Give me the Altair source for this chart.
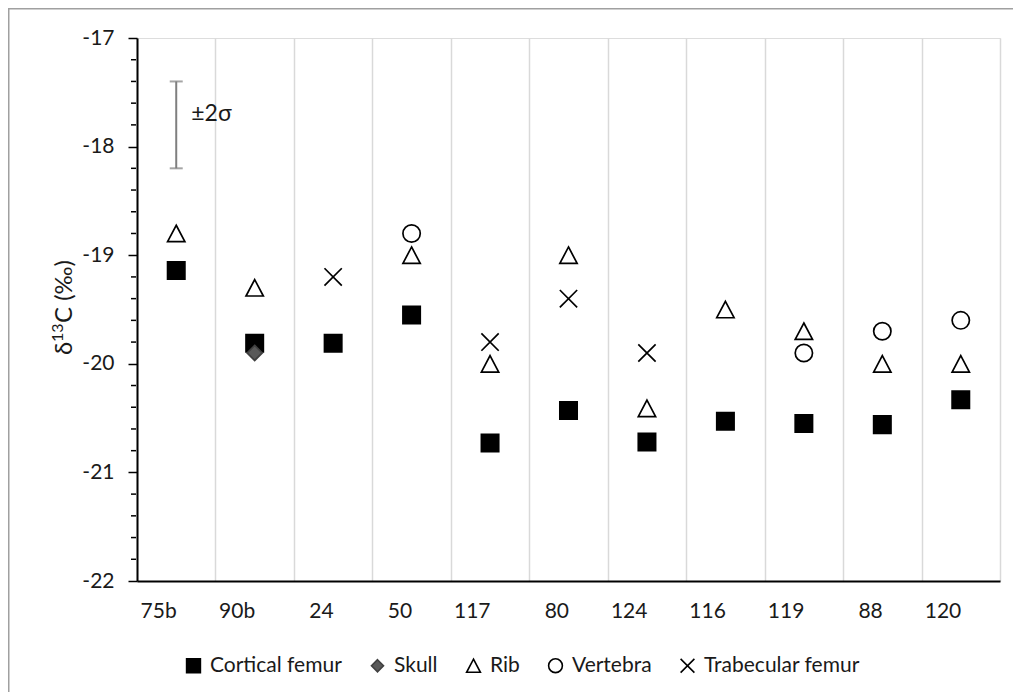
import altair as alt
import pandas as pd

categories = ["75b", "90b", "24", "50", "117", "80", "124", "116", "119", "88", "120"]
cortical_femur = [-19.14, -19.81, -19.81, -19.55, -20.73, -20.43, -20.72, -20.53, -20.55, -20.56, -20.33]
skull_cats = ["90b"]
skull = [-19.90]
rib_cats = ["75b", "90b", "50", "117", "80", "124", "116", "119", "88", "120"]
rib = [-18.8, -19.3, -19.0, -20.0, -19.0, -20.41, -19.5, -19.7, -20.0, -20.0]
vertebra_cats = ["50", "119", "88", "120"]
vertebra = [-18.8, -19.9, -19.7, -19.6]
trabecular_cats = ["24", "117", "80", "124"]
trabecular_femur = [-19.2, -19.8, -19.4, -19.9]

series_names = ["Cortical femur", "Skull", "Rib", "Vertebra", "Trabecular femur"]
series_shapes = [
    "M-1,-1L1,-1L1,1L-1,1Z",
    "M0,-0.87L0.87,0L0,0.87L-0.87,0Z",
    "M0,-0.95L1,0.95L-1,0.95Z",
    "M1,0A1,1,0,1,1,-1,0A1,1,0,1,1,1,0Z",
    "M-1,-1L1,1M1,-1L-1,1",
]
series_fills = ["#000000", "#595959", "transparent", "transparent", "transparent"]
series_strokes = ["#000000", "#404040", "#000000", "#000000", "#000000"]

sigma_cat = ["75b"]
sigma_low = [-18.2]
sigma_high = [-17.4]
sigma_label = ["±2σ"]
sigma_label_y = [-17.7]

y_title_parts = ["δ", "13", "C (‰)"]

y_major_ticks = [-22, -21, -20, -19, -18, -17]
y_minor_ticks = [-21.8, -21.6, -21.4, -21.2, -20.8, -20.6, -20.4, -20.2,
                 -19.8, -19.6, -19.4, -19.2, -18.8, -18.6, -18.4, -18.2,
                 -17.8, -17.6, -17.4, -17.2]

FONT = "Lato"
TXT = "#1a1a1a"
FS = 21

rows = []
for c, v in zip(categories, cortical_femur):
    rows.append({"cat": c, "val": v, "series": "Cortical femur"})
for c, v in zip(skull_cats, skull):
    rows.append({"cat": c, "val": v, "series": "Skull"})
for c, v in zip(rib_cats, rib):
    rows.append({"cat": c, "val": v, "series": "Rib"})
for c, v in zip(vertebra_cats, vertebra):
    rows.append({"cat": c, "val": v, "series": "Vertebra"})
for c, v in zip(trabecular_cats, trabecular_femur):
    rows.append({"cat": c, "val": v, "series": "Trabecular femur"})
df = pd.DataFrame(rows)

sig = pd.DataFrame({"cat": sigma_cat, "lo": sigma_low, "hi": sigma_high,
                    "label": sigma_label, "ly": sigma_label_y})
minor = pd.DataFrame({"v": y_minor_ticks})

xscale = alt.Scale(type="band", domain=categories, paddingInner=0, paddingOuter=0)
yscale = alt.Scale(domain=[-22, -17], nice=False, zero=False)

x_axis = alt.Axis(
    title=None, labelAngle=0, ticks=False, grid=True, tickBand="extent",
    gridColor="#d9d9d9", gridWidth=1.5, domain=True, domainColor="#000000",
    domainWidth=2, labelFont=FONT, labelFontSize=FS, labelColor=TXT,
    labelPadding=30,
)
y_axis = alt.Axis(
    title=None, values=y_major_ticks, grid=False, labelOverlap=False,
    labelExpr="'' + datum.value",
    tickSize=9, tickColor="#000000", tickWidth=1.5, domainColor="#000000", domainWidth=2,
    labelFont=FONT, labelFontSize=FS, labelColor=TXT, labelPadding=14,
)

legend = alt.Legend(title=None, orient="none", direction="horizontal",
                    legendX=46, legendY=617, columnPadding=25,
                    labelOffset=6, symbolSize=190, symbolStrokeWidth=1.6,
                    labelFont=FONT, labelFontSize=FS, labelColor=TXT,
                    labelLimit=400, padding=0)

points = alt.Chart(df).mark_point(filled=True, opacity=1, strokeWidth=1.7, size=300).encode(
    x=alt.X("cat:N", scale=xscale, axis=x_axis, sort=categories),
    y=alt.Y("val:Q", scale=yscale, axis=y_axis),
    shape=alt.Shape("series:N", scale=alt.Scale(domain=series_names, range=series_shapes), legend=legend),
    fill=alt.Fill("series:N", scale=alt.Scale(domain=series_names, range=series_fills), legend=legend),
    stroke=alt.Stroke("series:N", scale=alt.Scale(domain=series_names, range=series_strokes), legend=legend),
)

minor_ticks = alt.Chart(minor).mark_rule(color="#000000", strokeWidth=1.5).encode(
    x=alt.value(-6), x2=alt.value(-1), y=alt.Y("v:Q"),
)

err_rule = alt.Chart(sig).mark_rule(color="#7f7f7f", strokeWidth=2).encode(
    x=alt.X("cat:N", scale=xscale, sort=categories),
    y="lo:Q", y2="hi:Q",
)
err_cap_lo = alt.Chart(sig).mark_tick(color="#7f7f7f", thickness=2, size=13, orient="horizontal").encode(
    x=alt.X("cat:N", scale=xscale, sort=categories), y="lo:Q",
)
err_cap_hi = alt.Chart(sig).mark_tick(color="#7f7f7f", thickness=2, size=13, orient="horizontal").encode(
    x=alt.X("cat:N", scale=xscale, sort=categories), y="hi:Q",
)
err_text = alt.Chart(sig).mark_text(align="left", baseline="middle", dx=15, font=FONT,
                                    fontSize=23, color=TXT).encode(
    x=alt.X("cat:N", scale=xscale, sort=categories), y="ly:Q", text="label:N",
)

one = alt.Data(values=[{"a": 1}])
title_d = alt.Chart(one).mark_text(angle=270, align="left", baseline="alphabetic", font=FONT,
                                   fontSize=24, color=TXT, text=y_title_parts[0]).encode(
    x=alt.value(-65), y=alt.value(317))
title_13 = alt.Chart(one).mark_text(angle=270, align="left", baseline="alphabetic", font=FONT,
                                    fontSize=16, color=TXT, text=y_title_parts[1]).encode(
    x=alt.value(-74), y=alt.value(304))
title_c = alt.Chart(one).mark_text(angle=270, align="left", baseline="alphabetic", font=FONT,
                                   fontSize=24, color=TXT, text=y_title_parts[2]).encode(
    x=alt.value(-65), y=alt.value(285))

border_top = alt.Chart(one).mark_rule(color="#a0a0a0", strokeWidth=1.5).encode(
    x=alt.value(-129), x2=alt.value(880), y=alt.value(-29.25))
border_left = alt.Chart(one).mark_rule(color="#a0a0a0", strokeWidth=1.5).encode(
    x=alt.value(-128.25), y=alt.value(-30), y2=alt.value(660))

chart = alt.layer(border_top, border_left, title_d, title_13, title_c,
                  err_rule, err_cap_lo, err_cap_hi, err_text, points, minor_ticks).properties(
    width=863, height=543,
    autosize=alt.AutoSizeParams(type="none"),
    padding={"left": 129, "top": 30, "right": 13, "bottom": 111},
).configure_view(stroke="#000000", strokeWidth=2).configure(background="white")

chart.save("out.html", embed_options={"renderer": "svg", "actions": False})
